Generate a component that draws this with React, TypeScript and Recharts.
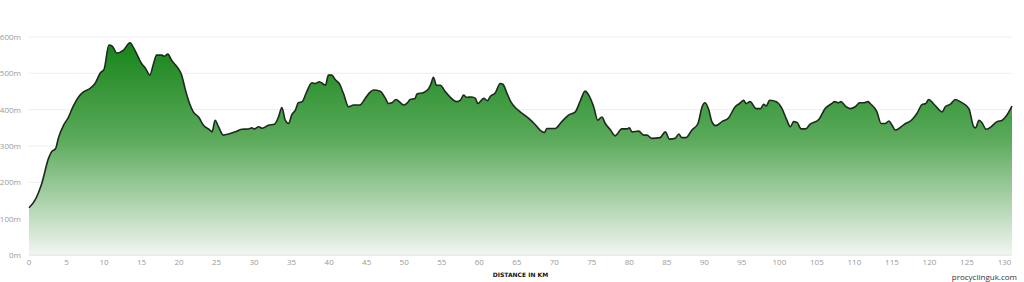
import { AreaChart, Area, XAxis, YAxis, CartesianGrid } from "recharts";

// distance along the route (km) and elevation (m)
const distanceKm = [
  0, 0.8, 1.7, 2.6, 3.0, 3.55, 3.9, 4.6, 5.25, 5.9, 6.6, 7.25, 8.1, 8.8, 9.5, 10.0,
  10.65, 11.1, 11.7, 12.6, 13.45, 14.1, 15.0, 15.55, 16.1, 16.6, 17.0, 17.7, 18.05, 18.5,
  19.0, 19.9, 20.35, 20.8, 21.25, 21.9, 22.6, 23.25, 24.1, 24.4, 24.8, 25.25, 25.9, 26.6,
  27.5, 28.35, 29.25, 29.7, 30.0, 30.6, 31.1, 31.9, 32.7, 33.25, 33.7, 34.15, 34.6, 35.0,
  35.5, 35.9, 36.4, 37.0, 37.7, 38.15, 38.7, 39.25, 39.5, 39.9, 40.35, 40.8, 41.4, 41.9,
  42.6, 43.25, 44.1, 44.8, 45.5, 45.9, 46.8, 47.5, 47.9, 48.35, 48.9, 49.5, 49.9, 50.35,
  50.8, 51.45, 51.7, 52.6, 53.25, 53.55, 53.9, 54.3, 54.8, 55.5, 56.1, 57.0, 57.5, 57.9,
  58.35, 59.0, 59.5, 59.8, 60.6, 61.1, 61.5, 62.1, 62.8, 63.15, 63.7, 64.2, 64.8, 65.45,
  66.6, 67.5, 68.1, 68.7, 69.0, 70.1, 71.0, 71.9, 72.8, 73.5, 74.1, 74.6, 75.25, 75.8,
  76.35, 76.8, 77.5, 78.1, 79.0, 79.7, 80.0, 80.35, 81.25, 81.9, 82.35, 83.0, 84.1, 84.8,
  85.35, 86.1, 86.6, 87.0, 87.55, 88.35, 89.15, 89.7, 90.1, 90.6, 91.0, 91.5, 92.35, 93.25,
  94.1, 94.7, 95.25, 95.55, 96.1, 96.9, 97.5, 97.9, 98.25, 98.7, 99.6, 100.35, 101.0, 101.45,
  101.9, 102.35, 102.9, 103.5, 104.1, 105.25, 106.1, 107.0, 107.35, 107.9, 108.2, 108.8,
  109.45, 110.1, 110.7, 111.25, 111.8, 112.1, 113.0, 113.55, 114.1, 114.6, 115.0, 115.45,
  116.6, 117.7, 118.35, 119.0, 119.5, 119.9, 120.6, 121.7, 122.1, 122.8, 123.45, 124.1,
  125.25, 125.9, 126.15, 126.6, 127.0, 127.55, 128.1, 129.0, 129.7, 130.1, 131.0,
];

const elevationM = [
  130, 151, 197, 266, 284, 293, 321, 357, 379, 410, 435, 449, 458, 472, 501, 511,
  578, 575, 556, 564, 584, 564, 527, 513, 495, 527, 550, 550, 547, 553,
  536, 513, 495, 458, 426, 394, 380, 357, 344, 339, 371, 353, 330, 333,
  339, 346, 347, 350, 347, 353, 349, 357, 360, 380, 406, 371, 362, 385,
  399, 419, 422, 449, 474, 472, 477, 470, 467, 495, 495, 483, 470, 445,
  408, 413, 413, 431, 449, 454, 451, 431, 417, 419, 428, 419, 413, 417,
  428, 431, 443, 447, 458, 470, 489, 467, 467, 449, 435, 422, 426, 440,
  434, 435, 431, 417, 431, 425, 437, 445, 472, 470, 445, 422, 406, 394,
  376, 358, 344, 337, 348, 348, 367, 385, 394, 426, 451, 440, 408, 371,
  380, 362, 344, 328, 347, 347, 350, 339, 341, 330, 330, 321, 323, 339,
  319, 321, 333, 323, 323, 344, 362, 408, 419, 399, 367, 356, 367, 378,
  408, 417, 426, 417, 422, 403, 403, 415, 410, 426, 422, 403, 371, 353,
  367, 365, 347, 347, 360, 373, 403, 417, 422, 419, 422, 410,
  403, 408, 419, 419, 422, 417, 394, 362, 362, 369, 358, 344,
  359, 373, 390, 414, 417, 428, 415, 394, 408, 415, 428, 422,
  403, 353, 350, 371, 364, 346, 351, 367, 371, 379, 410,
];

const xTicks = [0, 5, 10, 15, 20, 25, 30, 35, 40, 45, 50, 55, 60, 65, 70, 75, 80, 85, 90, 95, 100, 105, 110, 115, 120, 125, 130];
const yTicks = [0, 100, 200, 300, 400, 500, 600];

const profile = distanceKm.map((km, i) => ({ km, elevation: elevationM[i] }));

const tickStyle = { fill: "#9a9a9a", fontSize: 8, fontFamily: "Open Sans" };

export default function App() {
  return (
    <div style={{ position: "absolute", left: 0, top: 0, width: 1024, height: 282, background: "#fff" }}>
      <AreaChart width={1024} height={282} data={profile} margin={{ top: 37, right: 12, left: 0, bottom: 0 }}>
        <defs>
          <linearGradient id="elevFill" x1="0" y1="0" x2="0" y2="1">
            <stop offset="0%" stopColor="#17851a" />
            <stop offset="45%" stopColor="#5aa95a" />
            <stop offset="100%" stopColor="#f2f5f2" />
          </linearGradient>
        </defs>
        <CartesianGrid vertical={false} stroke="#efedf2" />
        <XAxis
          type="number"
          dataKey="km"
          domain={[0, 131]}
          ticks={xTicks}
          interval={0}
          height={27}
          tickLine={false}
          tickSize={2}
          tickMargin={2}
          axisLine={{ stroke: "#e2e2e2" }}
          tick={tickStyle}
          label={{ value: "DISTANCE IN KM", position: "insideBottom", offset: 5, fill: "#111", fontSize: 6, fontWeight: "bold", fontFamily: "DejaVu Sans" }}
        />
        <YAxis
          type="number"
          domain={[0, 600]}
          ticks={yTicks}
          width={29}
          tickLine={false}
          axisLine={false}
          tick={tickStyle}
          tickFormatter={(v) => `${v}m`}
        />
        <Area
          type="monotone"
          dataKey="elevation"
          stroke="#1f2a1f"
          strokeWidth={1.6}
          fill="url(#elevFill)"
          fillOpacity={1}
          isAnimationActive={false}
        />
      </AreaChart>
      <div style={{ position: "absolute", right: 7, top: 271, fontFamily: "Open Sans", fontSize: 8, color: "#333" }}>
        procyclinguk.com
      </div>
    </div>
  );
}
